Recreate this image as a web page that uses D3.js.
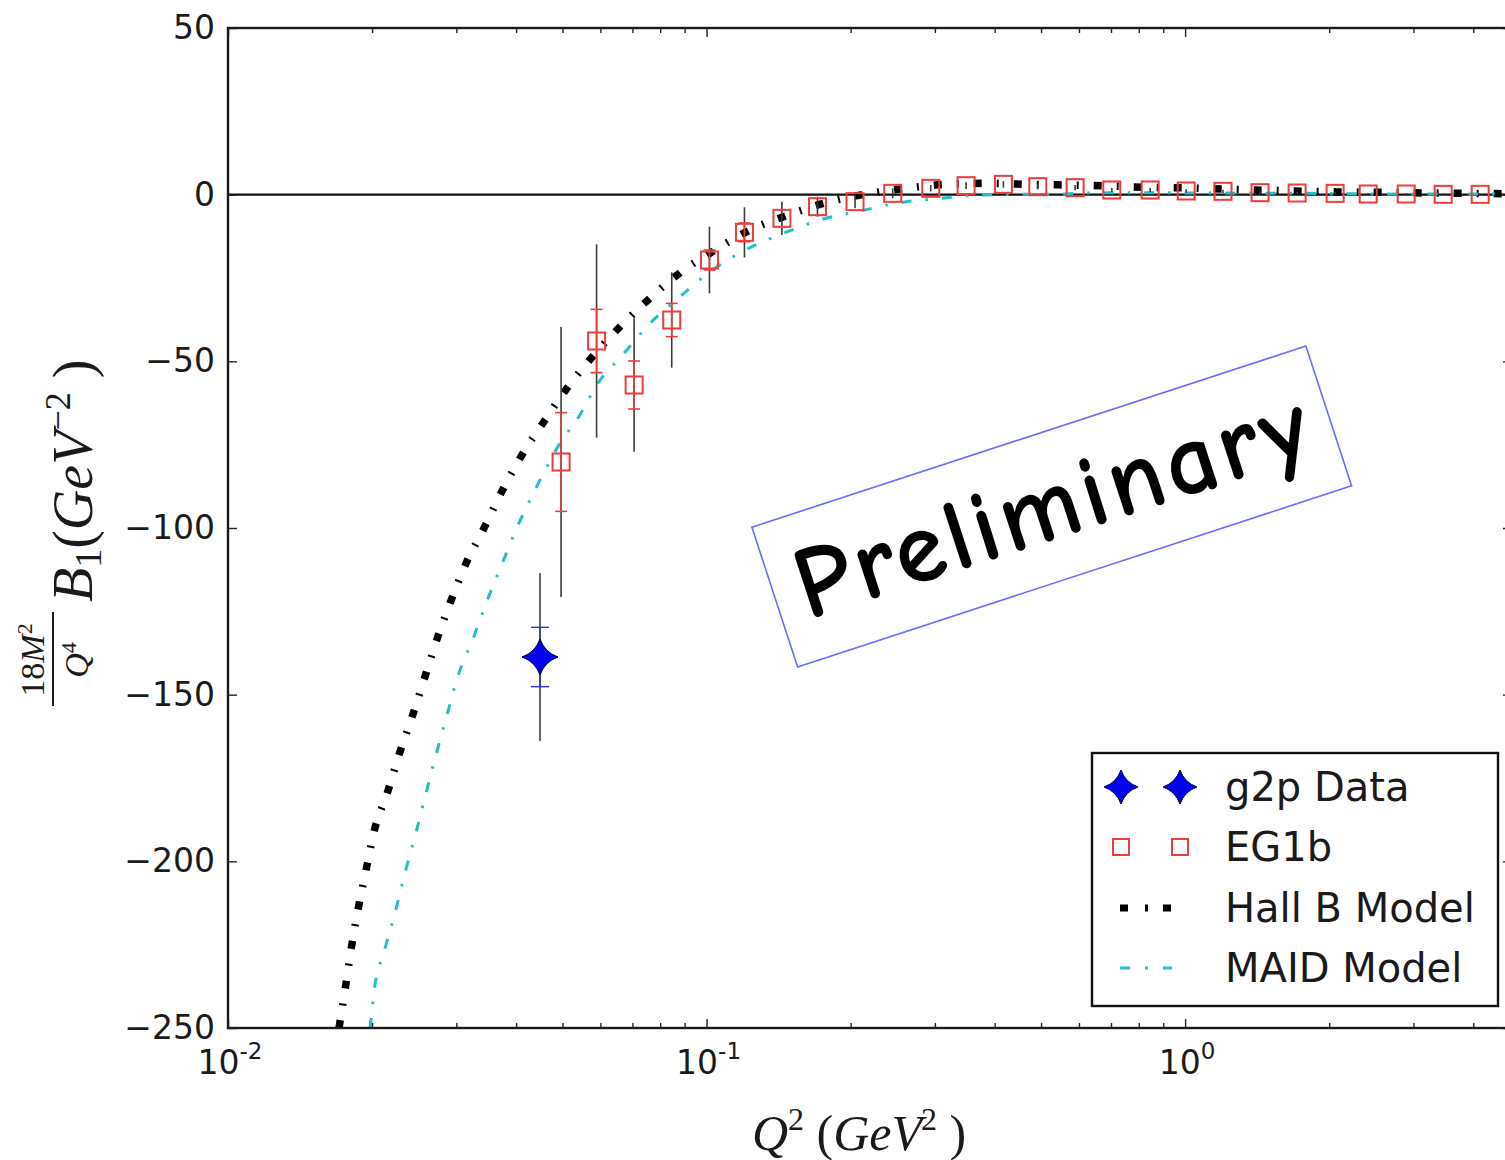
<!DOCTYPE html>
<html>
<head>
<meta charset="utf-8">
<script src="https://cdn.jsdelivr.net/npm/d3@7"></script>
<style>
  html, body { margin: 0; padding: 0; background: #ffffff; }
  svg { display: block; }
</style>
</head>
<body>
<svg id="chart" width="1505" height="1160"></svg>
<script>
// ---------------- data ----------------
const hallBQ2 = [0.01706,0.01756,0.01807,0.01869,0.01943,0.02019,0.02153,0.02280,0.02428,0.02580,0.02737,0.02924,0.03144,0.03433,0.03742,0.04110,0.04598,0.05119,0.05800,0.06596,0.07597,0.08805,0.1042,0.1233,0.1482,0.1777,0.2154,0.2608,0.3166,0.3851,0.4646,0.5704,0.6912,0.8369,1.024,1.230,1.491,1.790,2.160,2.618,3.175,3.847,4.665];
const hallBVal = [-250,-238.6,-226.6,-214.5,-202.7,-191.1,-179.4,-167.8,-156.4,-144.6,-133.1,-121.8,-110.6,-99.8,-88.8,-78.2,-67.6,-57.9,-48.3,-39.6,-31.2,-23.4,-16.6,-10.6,-6.1,-2.4,0.2,1.9,3.1,3.4,3.1,2.9,2.6,2.2,2.0,1.6,1.3,1.0,0.8,0.7,0.5,0.4,0.3];

const maidQ2 = [0.01981,0.02022,0.02122,0.02234,0.02344,0.02468,0.02589,0.02720,0.02865,0.03020,0.03247,0.03472,0.03742,0.04024,0.04345,0.05021,0.05354,0.05941,0.06701,0.07618,0.08805,0.1017,0.1194,0.1447,0.1726,0.2093,0.2537,0.3076,0.3729,0.4585,0.5481,0.6644,0.8452,1.075,1.739,2.813,4.665];
const maidVal = [-250,-238.4,-226.8,-215.4,-203.4,-191.6,-179.9,-168.1,-156.4,-144.6,-133.4,-122.1,-110.6,-99.6,-89.6,-73.0,-67.6,-56.4,-47.8,-38.6,-30.6,-23.1,-16.9,-11.6,-7.6,-4.9,-2.4,-1.1,-0.1,0.1,0.2,0.6,0.6,0.5,0.4,0.2,0.2];

const eg1bQ2   = [0.04966,0.05891,0.07057,0.08457,0.1014,0.1200,0.1437,0.1705,0.2043,0.2449,0.2941,0.3486,0.4172,0.4922,0.5890,0.7027,0.8452,1.005,1.200,1.434,1.714,2.058,2.413,2.897,3.461,4.136];
const eg1bVal  = [-80.2,-43.9,-57.1,-37.6,-19.6,-11.3,-7.1,-3.6,-2.1,0.4,1.9,2.7,3.1,2.4,2.1,1.4,1.4,1.1,1.0,0.6,0.5,0.4,0.2,0.2,0.1,0.1];
const eg1bStat = [14.8,9.5,7.2,5.0,3.0,2.8,1.5,1.0,0.8,0.6,0.5,0.5,0.5,0.4,0.4,0.3,0.3,0.3,0.3,0.2,0.2,0.2,0.2,0.2,0.2,0.2];
const eg1bSys  = [40.5,29.0,20.0,14.3,10.0,7.5,5.0,3.0,2.0,1.5,1.0,1.0,1.0,0.8,0.8,0.6,0.6,0.5,0.5,0.4,0.4,0.3,0.3,0.3,0.3,0.3];

const g2pQ2   = [0.04487];
const g2pVal  = [-138.7];
const g2pStat = [8.9];
const g2pSys  = [25.2];

const yTickValues = [50, 0, -50, -100, -150, -200, -250];
const xTickValues = [0.01, 0.1, 1];
const xTickExponents = ["-2", "-1", "0"];
const legendLabels = ["g2p Data", "EG1b", "Hall B Model", "MAID Model"];
const watermarkText = "Preliminary";

// ---------------- layout ----------------
const svg = d3.select("#chart");
const L = 228, T = 28, R = 1512, B = 1028;
const x = d3.scaleLog().domain([0.01, 4.82]).range([L, R]);
const y = d3.scaleLinear().domain([-250, 50]).range([B, T]);

const tickFont = "'DejaVu Sans', 'Bitstream Vera Sans', sans-serif";
const mathFont = "'Liberation Serif', 'DejaVu Serif', serif";

svg.append("defs").append("clipPath").attr("id", "plotclip")
  .append("rect").attr("x", L).attr("y", T).attr("width", R - L).attr("height", B - T);

// zero line
svg.append("line")
  .attr("x1", L).attr("x2", R).attr("y1", y(0)).attr("y2", y(0))
  .attr("stroke", "#111").attr("stroke-width", 2.2);

const plot = svg.append("g").attr("clip-path", "url(#plotclip)");

const line = d3.line().x(d => x(d[0])).y(d => y(d[1])).curve(d3.curveMonotoneX);

// Hall B model: thick black dash-dot
plot.append("path")
  .datum(hallBQ2.map((q, i) => [q, hallBVal[i]]))
  .attr("d", line)
  .attr("fill", "none").attr("stroke", "#000").attr("stroke-width", 7.5)
  .attr("stroke-dasharray", "8 15 2 15");

// MAID model: thin cyan dash-dot
plot.append("path")
  .datum(maidQ2.map((q, i) => [q, maidVal[i]]))
  .attr("d", line)
  .attr("fill", "none").attr("stroke", "#22bfc4").attr("stroke-width", 3)
  .attr("stroke-dasharray", "10 14 2.5 14");

// ---- EG1b error bars
const eg1b = eg1bQ2.map((q, i) => ({q, v: eg1bVal[i], s: eg1bStat[i], sy: eg1bSys[i]}));
plot.selectAll("line.eg1bsys").data(eg1b).enter().append("line")
  .attr("x1", d => x(d.q)).attr("x2", d => x(d.q))
  .attr("y1", d => y(d.v + d.sy)).attr("y2", d => y(d.v - d.sy))
  .attr("stroke", "#3a3a3a").attr("stroke-width", 1.6);
const eg1bBig = eg1b.filter(d => d.s >= 2.5);
plot.selectAll("line.eg1bstat").data(eg1bBig).enter().append("line")
  .attr("x1", d => x(d.q)).attr("x2", d => x(d.q))
  .attr("y1", d => y(d.v + d.s)).attr("y2", d => y(d.v - d.s))
  .attr("stroke", "#ee3b3b").attr("stroke-width", 1.6);
["top", "bot"].forEach(k => {
  plot.selectAll("line.eg1bcap" + k).data(eg1bBig).enter().append("line")
    .attr("x1", d => x(d.q) - 6).attr("x2", d => x(d.q) + 6)
    .attr("y1", d => y(k === "top" ? d.v + d.s : d.v - d.s))
    .attr("y2", d => y(k === "top" ? d.v + d.s : d.v - d.s))
    .attr("stroke", "#ee3b3b").attr("stroke-width", 1.6);
});
plot.selectAll("rect.eg1b").data(eg1b).enter().append("rect")
  .attr("x", d => x(d.q) - 8.5).attr("y", d => y(d.v) - 8.5)
  .attr("width", 17).attr("height", 17)
  .attr("fill", "none").attr("stroke", "#ee3b3b").attr("stroke-width", 2);

// ---- g2p data
const starPath = (r) => {
  const c = r * 0.26;
  return `M0,${-r} Q${c},${-c} ${r},0 Q${c},${c} 0,${r} Q${-c},${c} ${-r},0 Q${-c},${-c} 0,${-r}Z`;
};
const g2p = g2pQ2.map((q, i) => ({q, v: g2pVal[i], s: g2pStat[i], sy: g2pSys[i]}));
plot.selectAll("line.g2psys").data(g2p).enter().append("line")
  .attr("x1", d => x(d.q)).attr("x2", d => x(d.q))
  .attr("y1", d => y(d.v + d.sy)).attr("y2", d => y(d.v - d.sy))
  .attr("stroke", "#555").attr("stroke-width", 1.8);
plot.selectAll("line.g2pstat").data(g2p).enter().append("line")
  .attr("x1", d => x(d.q)).attr("x2", d => x(d.q))
  .attr("y1", d => y(d.v + d.s)).attr("y2", d => y(d.v - d.s))
  .attr("stroke", "#3030c0").attr("stroke-width", 1.4);
["top", "bot"].forEach(k => {
  plot.selectAll("line.g2pcap" + k).data(g2p).enter().append("line")
    .attr("x1", d => x(d.q) - 9).attr("x2", d => x(d.q) + 9)
    .attr("y1", d => y(k === "top" ? d.v + d.s : d.v - d.s))
    .attr("y2", d => y(k === "top" ? d.v + d.s : d.v - d.s))
    .attr("stroke", "#3030e0").attr("stroke-width", 1.4);
});
plot.selectAll("path.g2p").data(g2p).enter().append("path")
  .attr("transform", d => `translate(${x(d.q)},${y(d.v)})`)
  .attr("d", starPath(18))
  .attr("fill", "#0000ee").attr("stroke", "#000044").attr("stroke-width", 1);

// ---------------- axes ----------------
const minorX = [];
[0.01, 0.1, 1].forEach(dec => { for (let m = 2; m <= 9; m++) { const v = m * dec; if (v <= 4.82) minorX.push(v); } });

const axB = svg.append("g").attr("transform", `translate(0,${B})`)
  .call(d3.axisBottom(x).tickValues(xTickValues).tickSize(-9).tickFormat(""));
const axBm = svg.append("g").attr("transform", `translate(0,${B})`)
  .call(d3.axisBottom(x).tickValues(minorX).tickSize(-5).tickFormat(""));
const axT = svg.append("g").attr("transform", `translate(0,${T})`)
  .call(d3.axisTop(x).tickValues(xTickValues).tickSize(-9).tickFormat(""));
const axTm = svg.append("g").attr("transform", `translate(0,${T})`)
  .call(d3.axisTop(x).tickValues(minorX).tickSize(-5).tickFormat(""));
const axL = svg.append("g").attr("transform", `translate(${L},0)`)
  .call(d3.axisLeft(y).tickValues(yTickValues).tickSize(-9).tickPadding(13));
const axR = svg.append("g").attr("transform", `translate(${R},0)`)
  .call(d3.axisRight(y).tickValues(yTickValues).tickSize(-9).tickFormat(""));

[axB, axBm, axT, axTm, axL, axR].forEach(g => {
  g.select(".domain").remove();
  g.selectAll(".tick line").attr("stroke", "#222").attr("stroke-width", 1.4);
});
axL.selectAll(".tick text")
  .attr("font-family", tickFont).attr("font-size", 33).attr("fill", "#1a1a1a");

// x tick labels 10^n
const xl = svg.append("g");
xTickValues.forEach((v, i) => {
  const t = xl.append("text")
    .attr("x", x(v) + 2).attr("y", B + 46)
    .attr("text-anchor", "middle")
    .attr("font-family", tickFont).attr("font-size", 33).attr("fill", "#1a1a1a");
  t.append("tspan").text("10");
  t.append("tspan").attr("dy", -15).attr("font-size", 23).text(xTickExponents[i]);
});

// frame
svg.append("rect").attr("x", L).attr("y", T).attr("width", R - L).attr("height", B - T)
  .attr("fill", "none").attr("stroke", "#1a1a1a").attr("stroke-width", 2.4);

// ---------------- axis titles ----------------
// x label: Q^2 (GeV^2 )
const xt = svg.append("text")
  .attr("x", 752).attr("y", 1150)
  .attr("font-family", mathFont).attr("font-size", 50).attr("font-style", "italic").attr("fill", "#1a1a1a");
xt.append("tspan").text("Q");
xt.append("tspan").attr("dy", -20).attr("font-size", 32).attr("font-style", "normal").text("2");
xt.append("tspan").attr("dy", 20).attr("font-style", "normal").text(" (");
xt.append("tspan").text("GeV");
xt.append("tspan").attr("dx", -1).attr("dy", -20).attr("font-size", 32).attr("font-style", "normal").text("2");
xt.append("tspan").attr("dy", 20).attr("font-style", "normal").text(" )");

// y label (rotated): 18M^2/Q^4 B_1 (GeV^-2)
const yl = svg.append("g").attr("transform", "rotate(-90)")
  .attr("font-family", mathFont).attr("fill", "#1a1a1a");
// fraction
const num = yl.append("text").attr("x", -660).attr("y", 44).attr("text-anchor", "middle").attr("font-size", 34);
num.append("tspan").text("18");
num.append("tspan").attr("font-style", "italic").text("M");
num.append("tspan").attr("dy", -12).attr("font-size", 22).text("2");
yl.append("line").attr("x1", -706).attr("x2", -612).attr("y1", 53).attr("y2", 53)
  .attr("stroke", "#1a1a1a").attr("stroke-width", 2);
const den = yl.append("text").attr("x", -660).attr("y", 88).attr("text-anchor", "middle").attr("font-size", 34);
den.append("tspan").attr("font-style", "italic").text("Q");
den.append("tspan").attr("dy", -12).attr("font-size", 22).text("4");
// main part
const ym = yl.append("text").attr("x", -602).attr("y", 92).attr("font-size", 56);
ym.append("tspan").attr("font-style", "italic").text("B");
ym.append("tspan").attr("dy", 9).attr("font-size", 38).text("1");
ym.append("tspan").attr("dy", -9).text("(");
ym.append("tspan").attr("font-style", "italic").text("GeV");
ym.append("tspan").attr("dy", -22).attr("font-size", 36).text("\u22122");
ym.append("tspan").attr("dy", 22).text(" )");

// ---------------- legend ----------------
const lg = svg.append("g");
lg.append("rect").attr("x", 1092).attr("y", 753).attr("width", 406).attr("height", 253)
  .attr("fill", "#fff").attr("stroke", "#111").attr("stroke-width", 2.4);
const rowY = [787, 847, 908, 968];
[1121, 1180].forEach(cx => {
  lg.append("path").attr("transform", `translate(${cx},${rowY[0]})`).attr("d", starPath(17))
    .attr("fill", "#0000ee").attr("stroke", "#000044").attr("stroke-width", 1);
  lg.append("rect").attr("x", cx - 8).attr("y", rowY[1] - 8).attr("width", 16).attr("height", 16)
    .attr("fill", "none").attr("stroke", "#ee3b3b").attr("stroke-width", 2);
});
lg.append("line").attr("x1", 1120).attr("x2", 1172).attr("y1", rowY[2]).attr("y2", rowY[2])
  .attr("stroke", "#000").attr("stroke-width", 7).attr("stroke-dasharray", "8 17 3 15");
lg.append("line").attr("x1", 1120).attr("x2", 1172).attr("y1", rowY[3]).attr("y2", rowY[3])
  .attr("stroke", "#22bfc4").attr("stroke-width", 3).attr("stroke-dasharray", "10 15 3 15");
legendLabels.forEach((lab, i) => {
  lg.append("text").attr("x", 1225).attr("y", rowY[i]).attr("dy", "0.36em")
    .attr("font-family", tickFont).attr("font-size", 40).attr("fill", "#1a1a1a").text(lab);
});

// ---------------- watermark ----------------
const wm = svg.append("g").attr("transform", "translate(1051.75,506.5) rotate(-18.1)");
wm.append("rect").attr("x", -291.4).attr("y", -73.5).attr("width", 582.8).attr("height", 147)
  .attr("fill", "none").attr("stroke", "#6a6aff").attr("stroke-width", 1.6);
wm.append("text").attr("x", 0).attr("y", 32).attr("text-anchor", "middle")
  .attr("font-family", "'Comic Sans MS', 'Comic Neue', 'Open Sans', sans-serif")
  .attr("font-weight", 600).attr("font-size", 102).attr("fill", "#000")
  .attr("textLength", 535).attr("lengthAdjust", "spacing")
  .text(watermarkText);
</script>
</body>
</html>
